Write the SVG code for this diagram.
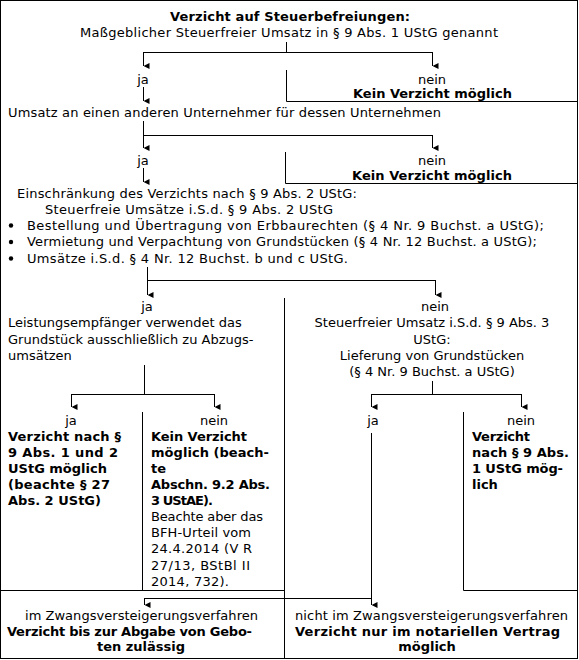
<svg xmlns="http://www.w3.org/2000/svg" width="579" height="660" viewBox="0 0 579 660">
<defs>
<marker id="ah" markerWidth="6" markerHeight="6" refX="3" refY="6" orient="auto" markerUnits="userSpaceOnUse" viewBox="0 0 6 6">
<path d="M0,0 L6,0 L3,6 Z" fill="#000"/>
</marker>
</defs>
<style>
text{font-family:"DejaVu Sans",Verdana,sans-serif;font-size:13px;fill:#000}
.b{font-weight:bold}
.c{text-anchor:middle}
.ln{fill:none;stroke:#000;stroke-width:1}
.ar{fill:none;stroke:#000;stroke-width:1;marker-end:url(#ah)}
</style>
<rect x="0" y="0" width="579" height="660" fill="#fff"/>
<rect class="ln" x="0.5" y="0.5" width="577" height="658"/>
<g id="connectors">
<path class="ln" d="M286.5,42 V52.5 M143.5,52.5 H432.5"/>
<path class="ar" d="M143.5,52 V66"/>
<path class="ar" d="M432.5,52 V66"/>
<path class="ln" d="M286.5,70 V101.5 H578"/>
<path class="ar" d="M143.5,87 V101"/>
<path class="ln" d="M143.5,121 V135.5 H432.5"/>
<path class="ar" d="M143.5,135 V148"/>
<path class="ar" d="M432.5,135 V148"/>
<path class="ln" d="M285.5,152 V183.5 H578"/>
<path class="ar" d="M143.5,168 V182"/>
<path class="ln" d="M147.5,267 V280.5 H435.5"/>
<path class="ar" d="M147.5,280 V295"/>
<path class="ar" d="M435.5,280 V295"/>
<path class="ln" d="M284.5,298 V659"/>
<path class="ln" d="M144.5,365 V394.5 M71.5,394.5 H214.5"/>
<path class="ar" d="M71.5,394 V407"/>
<path class="ar" d="M214.5,394 V407"/>
<path class="ln" d="M432.5,381 V394.5 M371.5,394.5 H521.5"/>
<path class="ar" d="M371.5,394 V407"/>
<path class="ar" d="M521.5,394 V407"/>
<path class="ln" d="M142.5,412 V590"/>
<path class="ln" d="M463.5,412 V590.5 H578"/>
<path class="ln" d="M0,590.5 H284.5"/>
<path class="ar" d="M371.5,433 V605"/>
<path class="ln" d="M371.5,598.5 H144.5"/>
<path class="ar" d="M144.5,598 V605"/>
</g>
<g id="n1">
<text class="b" x="170" y="21" textLength="240" lengthAdjust="spacing">Verzicht auf Steuerbefreiungen:</text>
<text x="80" y="37" textLength="418" lengthAdjust="spacing">Maßgeblicher Steuerfreier Umsatz in § 9 Abs. 1 UStG genannt</text>
</g>
<g id="n1ja"><text class="c" x="143" y="83.5">ja</text></g>
<g id="n1nein">
<text class="c" x="432" y="83.5">nein</text>
<text class="b" x="353" y="98" textLength="159" lengthAdjust="spacing">Kein Verzicht möglich</text>
</g>
<g id="n2"><text x="8" y="117" textLength="433" lengthAdjust="spacing">Umsatz an einen anderen Unternehmer für dessen Unternehmen</text></g>
<g id="n2ja"><text class="c" x="143" y="165">ja</text></g>
<g id="n2nein">
<text class="c" x="432" y="165">nein</text>
<text class="b" x="352" y="180" textLength="160" lengthAdjust="spacing">Kein Verzicht möglich</text>
</g>
<g id="n3">
<text x="17" y="198" textLength="340" lengthAdjust="spacing">Einschränkung des Verzichts nach § 9 Abs. 2 UStG:</text>
<text x="45" y="214" textLength="288" lengthAdjust="spacing">Steuerfreie Umsätze i.S.d. § 9 Abs. 2 UStG</text>
<circle cx="11" cy="225.5" r="2.2"/>
<text x="27" y="229.5" textLength="517" lengthAdjust="spacing">Bestellung und Übertragung von Erbbaurechten (§ 4 Nr. 9 Buchst. a UStG);</text>
<circle cx="11" cy="242" r="2.2"/>
<text x="27" y="246" textLength="510" lengthAdjust="spacing">Vermietung und Verpachtung von Grundstücken (§ 4 Nr. 12 Buchst. a UStG);</text>
<circle cx="11" cy="258.5" r="2.2"/>
<text x="27" y="262.5" textLength="321" lengthAdjust="spacing">Umsätze i.S.d. § 4 Nr. 12 Buchst. b und c UStG.</text>
</g>
<g id="n4">
<text class="c" x="147" y="310.5">ja</text>
<text x="8" y="327">Leistungsempfänger verwendet das</text>
<text x="8" y="343.5">Grundstück ausschließlich zu Abzugs-</text>
<text x="8" y="360">umsätzen</text>
</g>
<g id="n5">
<text class="c" x="435" y="310.5">nein</text>
<text class="c" x="432" y="327">Steuerfreier Umsatz i.S.d. § 9 Abs. 3</text>
<text class="c" x="432" y="343.5">UStG:</text>
<text class="c" x="432" y="360">Lieferung von Grundstücken</text>
<text class="c" x="432" y="376">(§ 4 Nr. 9 Buchst. a UStG)</text>
</g>
<g id="n6">
<text class="c" x="71" y="424.5">ja</text>
<text class="b" x="8" y="441" textLength="113" lengthAdjust="spacing">Verzicht nach §</text>
<text class="b" x="8" y="457" textLength="110" lengthAdjust="spacing">9 Abs. 1 und 2</text>
<text class="b" x="8" y="473" textLength="99" lengthAdjust="spacing">UStG möglich</text>
<text class="b" x="8" y="489" textLength="102" lengthAdjust="spacing">(beachte § 27</text>
<text class="b" x="8" y="505" textLength="93" lengthAdjust="spacing">Abs. 2 UStG)</text>
</g>
<g id="n7">
<text class="c" x="214" y="424.5">nein</text>
<text class="b" x="151" y="441" textLength="96" lengthAdjust="spacing">Kein Verzicht</text>
<text class="b" x="151" y="457" textLength="118" lengthAdjust="spacing">möglich (beach-</text>
<text class="b" x="151" y="473">te</text>
<text class="b" x="151" y="489" textLength="119" lengthAdjust="spacing">Abschn. 9.2 Abs.</text>
<text class="b" x="151" y="505" textLength="62" lengthAdjust="spacing">3 UStAE).</text>
<text x="151" y="521" textLength="112" lengthAdjust="spacing">Beachte aber das</text>
<text x="151" y="537" textLength="100" lengthAdjust="spacing">BFH-Urteil vom</text>
<text x="151" y="553" textLength="101" lengthAdjust="spacing">24.4.2014 (V R</text>
<text x="151" y="569.5" textLength="99" lengthAdjust="spacing">27/13, BStBl II</text>
<text x="151" y="586" textLength="78" lengthAdjust="spacing">2014, 732).</text>
</g>
<g id="n8"><text class="c" x="373" y="424.5">ja</text></g>
<g id="n9">
<text class="c" x="521" y="424.5">nein</text>
<text class="b" x="472" y="441" textLength="58" lengthAdjust="spacing">Verzicht</text>
<text class="b" x="472" y="457" textLength="97" lengthAdjust="spacing">nach § 9 Abs.</text>
<text class="b" x="472" y="473" textLength="91" lengthAdjust="spacing">1 UStG mög-</text>
<text class="b" x="472" y="489">lich</text>
</g>
<g id="n10">
<text x="25" y="620" textLength="233" lengthAdjust="spacing">im Zwangsversteigerungsverfahren</text>
<text class="b" x="7" y="635.5" textLength="245" lengthAdjust="spacing">Verzicht bis zur Abgabe von Gebo-</text>
<text class="b c" x="141" y="651">ten zulässig</text>
</g>
<g id="n11">
<text x="295" y="620" textLength="273" lengthAdjust="spacing">nicht im Zwangsversteigerungsverfahren</text>
<text class="b" x="295" y="635.5" textLength="265" lengthAdjust="spacing">Verzicht nur im notariellen Vertrag</text>
<text class="b c" x="427" y="651">möglich</text>
</g>
</svg>
